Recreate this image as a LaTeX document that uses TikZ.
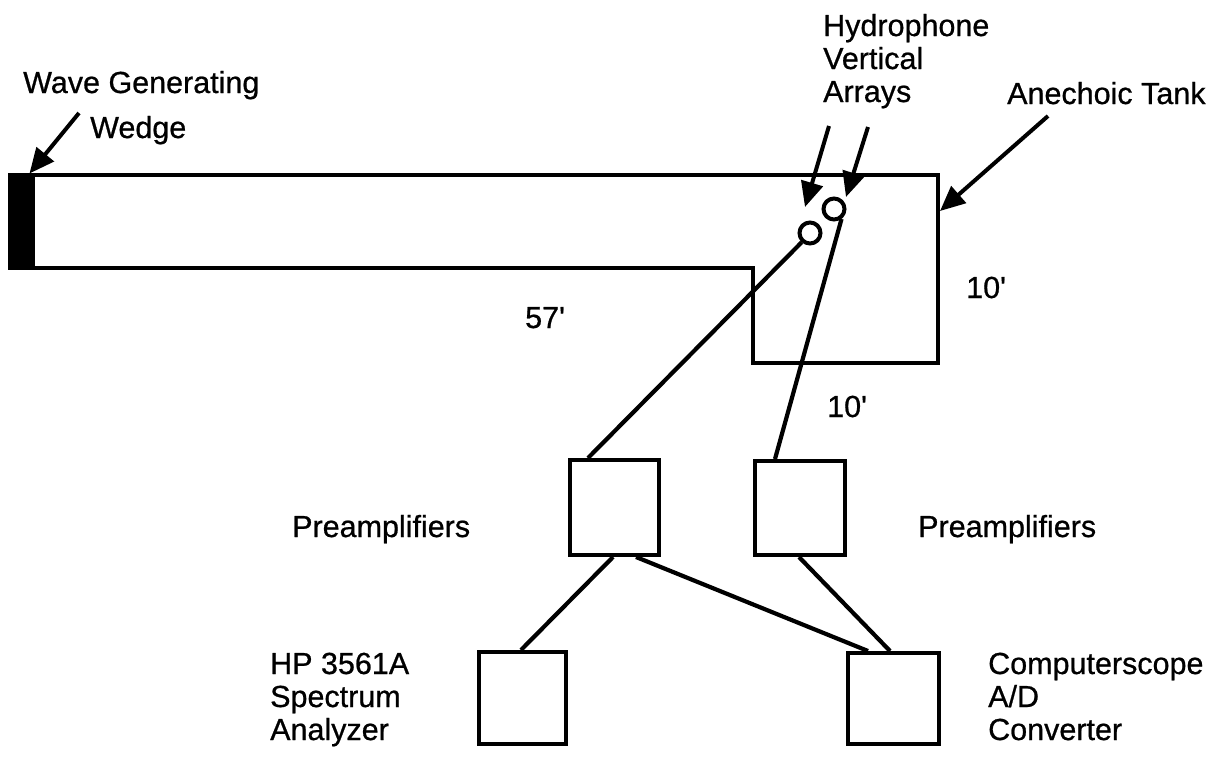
\documentclass[tikz,border=0pt]{standalone}
\usepackage{fontspec}
\setmainfont{Liberation Sans}
\newfontfamily\lblfont[FakeBold=0.7]{Liberation Sans}
\usetikzlibrary{arrows.meta}
\begin{document}
\begin{tikzpicture}[x=1pt,y=-1pt,
  lbl/.style={anchor=base west,inner sep=0pt,font=\lblfont\fontsize{30.5}{33}\selectfont},
  tank/.style={line width=3.2pt,line join=miter},
  box/.style={draw,line width=4pt,rectangle,inner sep=0pt},
  hyd/.style={draw,circle,line width=4pt,inner sep=0pt,minimum size=21pt},
  wire/.style={line width=4.2pt},
  pointer/.style={line width=4pt,-{Triangle[length=25pt,width=22pt]}}]
\fill[white] (0,0) rectangle (1226,763);
\useasboundingbox (0,0) rectangle (1226,763);

% tank
\draw[tank] (10,175) -- (938,175) -- (938,363) -- (753,363) -- (753,268) -- (10,268) -- cycle;
\node[fill=black,draw=black,line width=1pt,inner sep=0pt,minimum width=24pt,minimum height=95pt] (wedge) at (22.5,221.5) {};

% hydrophones
\node[hyd] (c1) at (834,209) {};
\node[hyd] (c2) at (810,233) {};

% boxes
\node[box,minimum width=89pt,minimum height=95pt] (pL) at (614.5,507.5) {};
\node[box,minimum width=90pt,minimum height=94pt] (pR) at (800,508) {};
\node[box,minimum width=87pt,minimum height=92pt] (bL) at (522.5,698) {};
\node[box,minimum width=91pt,minimum height=91pt] (bR) at (893.5,698.5) {};

% wires
\draw[wire] (c2.228) -- ([xshift=20pt]pL.north west);
\draw[wire] (c1.-53) -- ([xshift=22pt]pR.north west);
\draw[wire] ([xshift=45pt]pL.south west) -- ([xshift=44pt]bL.north west);
\draw[wire] ([xshift=68pt]pL.south west) -- ([xshift=22pt]bR.north west);
\draw[wire] ([xshift=46pt]pR.south west) -- ([xshift=44pt]bR.north west);

% pointer arrows
\coordinate (wt) at (79,113);
\coordinate (h1t) at (829,126);
\coordinate (h1h) at (805,207);
\coordinate (h2t) at (868,127);
\coordinate (h2h) at (846,197);
\coordinate (at) at (1048,116);
\coordinate (ah) at (940,211);
\draw[pointer] (wt) -- ([xshift=7pt]wedge.north);
\draw[pointer] (h1t) -- (h1h);
\draw[pointer] (h2t) -- (h2h);
\draw[pointer] (at) -- (ah);

% labels
\node[lbl] (wg) at (23,93) {Wave Generating};
\node[lbl] (wd) at (90,138) {Wedge};
\node[lbl] (hy1) at (823,36) {Hydrophone};
\node[lbl] (hy2) at (823,69) {Vertical};
\node[lbl] (hy3) at (823,102) {Arrays};
\node[lbl] (an) at (1007,104) {Anechoic Tank};
\node[lbl] (d1) at (966,298) {10'};
\node[lbl] (d2) at (525,328) {57'};
\node[lbl] (d3) at (827,417) {10'};
\node[lbl] (prL) at (292,537) {Preamplifiers};
\node[lbl] (prR) at (918,537) {Preamplifiers};
\node[lbl] (hp1) at (270,674) {HP 3561A};
\node[lbl] (hp2) at (270,707) {Spectrum};
\node[lbl] (hp3) at (270,740) {Analyzer};
\node[lbl] (cs1) at (988,674) {Computerscope};
\node[lbl] (cs2) at (988,707) {A/D};
\node[lbl] (cs3) at (988,740) {Converter};
\end{tikzpicture}
\end{document}
